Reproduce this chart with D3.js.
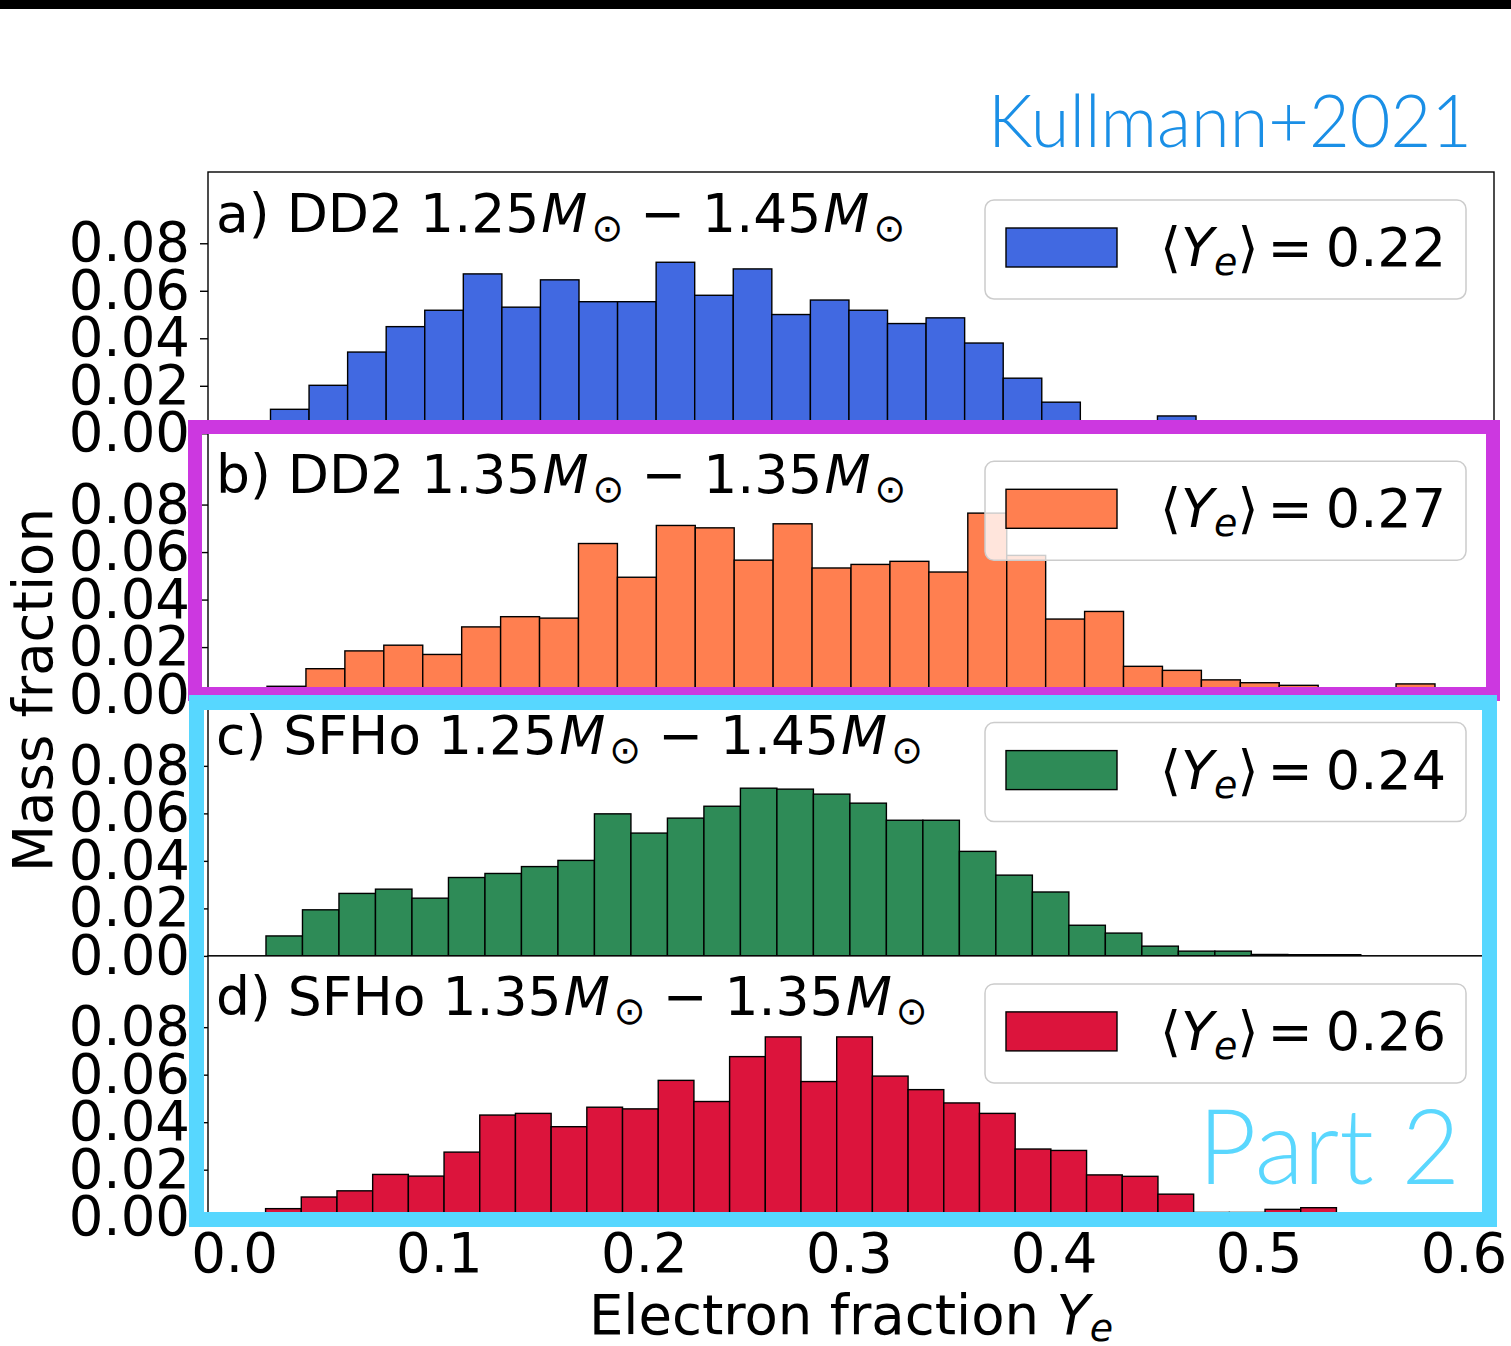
<!DOCTYPE html>
<html><head><meta charset="utf-8">
<script src="https://cdn.jsdelivr.net/npm/d3@7"></script>
<style>body{margin:0;background:#fff} svg text{font-family:"DejaVu Sans";white-space:pre}</style>
</head><body>
<svg id="chart" width="1511" height="1346"></svg>
<script>
// ---------- data ----------
const panelLetters = ["a", "b", "c", "d"];
const eosNames = ["DD2", "DD2", "SFHo", "SFHo"];
const mass1 = ["1.25", "1.35", "1.25", "1.35"];
const mass2 = ["1.45", "1.35", "1.45", "1.35"];
const meanYe = ["0.22", "0.27", "0.24", "0.26"];
const colors = ["#4169e1", "#ff7f50", "#2e8b57", "#dc143c"];
const binStarts = [0.0178, 0.0161, 0.0156, 0.0154];
const binWidths = [0.01882, 0.0190, 0.01781, 0.01742];
const dd2_125_145 = [0.0101, 0.0202, 0.0342, 0.0449, 0.0518, 0.0671, 0.0531, 0.0646, 0.0554, 0.0554,
  0.0720, 0.0581, 0.0692, 0.0500, 0.0561, 0.0518, 0.0462, 0.0486, 0.0380, 0.0232,
  0.0131, 0.0015, 0.0015, 0.0073, 0, 0, 0, 0, 0, 0.001];
const dd2_135_135 = [0.0035, 0.0109, 0.0184, 0.0208, 0.0169, 0.0285, 0.0328, 0.0322, 0.0636, 0.0494,
  0.0712, 0.0702, 0.0566, 0.0719, 0.0533, 0.0548, 0.0561, 0.0516, 0.0764, 0.0586,
  0.0318, 0.0350, 0.0119, 0.0102, 0.0062, 0.0050, 0.0039, 0.0025, 0.0020, 0.0045];
const sfho_125_145 = [0.0084, 0.0194, 0.0263, 0.0281, 0.0243, 0.0330, 0.0347, 0.0376, 0.0402, 0.0598,
  0.0517, 0.0580, 0.0630, 0.0706, 0.0702, 0.0681, 0.0643, 0.0571, 0.0571, 0.0440,
  0.0340, 0.0269, 0.0129, 0.0096, 0.0041, 0.0020, 0.0020, 0.0006, 0.0005, 0.0005];
const sfho_135_135 = [0.0036, 0.0085, 0.0111, 0.0180, 0.0173, 0.0274, 0.0430, 0.0437, 0.0381, 0.0463,
  0.0456, 0.0576, 0.0487, 0.0676, 0.0759, 0.0571, 0.0759, 0.0594, 0.0537, 0.0481,
  0.0437, 0.0287, 0.0281, 0.0178, 0.0172, 0.0097, 0.0020, 0.0020, 0.0033, 0.0040];
const series = [dd2_125_145, dd2_135_135, sfho_125_145, sfho_135_135];
const yTicks = [0, 0.02, 0.04, 0.06, 0.08];
const xTicks = [0, 0.1, 0.2, 0.3, 0.4, 0.5, 0.6];
const xLimits = [-0.0127, 0.6149];
const yMax = 0.11;

// ---------- layout ----------
const L = 208, R = 1494, T0 = 172, PH = 261.3;
const FS = 54.5, TFS = 53.5;
const svg = d3.select("#chart");
const x = d3.scaleLinear().domain(xLimits).range([L, R]);

series.forEach((vals, k) => {
  const top = T0 + k * PH, bottom = top + PH;
  const y = d3.scaleLinear().domain([0, yMax]).range([bottom, top]);
  const g = svg.append("g");
  g.append("rect").attr("x", L).attr("y", top).attr("width", R - L).attr("height", PH).attr("fill", "#fff");

  const bins = vals.map((v, i) => ({x0: binStarts[k] + i * binWidths[k], x1: binStarts[k] + (i + 1) * binWidths[k], v}))
    .filter(d => d.v > 0);
  g.selectAll("rect.bar").data(bins).join("rect").attr("class", "bar")
    .attr("x", d => x(d.x0)).attr("width", d => x(d.x1) - x(d.x0))
    .attr("y", d => y(d.v)).attr("height", d => y(0) - y(d.v))
    .attr("fill", colors[k]).attr("stroke", "#000").attr("stroke-width", 1.4);

  g.append("rect").attr("x", L).attr("y", top).attr("width", R - L).attr("height", PH)
    .attr("fill", "none").attr("stroke", "#000").attr("stroke-width", 1.4);

  const ya = g.append("g").attr("transform", `translate(${L},0)`)
    .call(d3.axisLeft(y).tickValues(yTicks).tickFormat(d3.format(".2f")).tickSize(8).tickPadding(10).tickSizeOuter(0));
  ya.select(".domain").remove();
  ya.selectAll("line").attr("stroke", "#000").attr("stroke-width", 1.4);
  ya.selectAll("text").attr("font-size", FS).attr("font-family", "DejaVu Sans").attr("fill", "#000");

  // title
  const t = g.append("text").attr("x", L + 8).attr("y", top + 59.5).attr("font-size", TFS).attr("fill", "#000");
  t.append("tspan").text(`${panelLetters[k]}) ${eosNames[k]} ${mass1[k]}`);
  t.append("tspan").attr("font-style", "italic").attr("dx", 2).text("M");
  t.append("tspan").attr("font-size", 38).attr("dy", 9).attr("dx", 4).text("\u2299");
  t.append("tspan").attr("dy", -9).attr("dx", 0).text(" \u2212 " + mass2[k]);
  t.append("tspan").attr("font-style", "italic").attr("dx", 2).text("M");
  t.append("tspan").attr("font-size", 38).attr("dy", 9).attr("dx", 4).text("\u2299");

  // legend
  const lw = 481, lh = 99;
  const lg = g.append("g").attr("transform", `translate(${R - 28 - lw},${top + 28})`);
  lg.append("rect").attr("width", lw).attr("height", lh).attr("rx", 9)
    .attr("fill", "#fff").attr("fill-opacity", 0.8).attr("stroke", "#cccccc").attr("stroke-width", 1.5);
  lg.append("rect").attr("x", 21).attr("y", 28).attr("width", 111).attr("height", 39)
    .attr("fill", colors[k]).attr("stroke", "#000").attr("stroke-width", 1.4);
  const lt = lg.append("text").attr("x", 175).attr("y", 66).attr("font-size", 54).attr("fill", "#000");
  lt.append("tspan").text("\u27e8");
  lt.append("tspan").attr("font-style", "italic").text("Y");
  lt.append("tspan").attr("font-style", "italic").attr("font-size", 38).attr("dy", 9).text("e");
  lt.append("tspan").attr("dy", -9).text("\u27e9");
  lt.append("tspan").attr("dx", 9).text("=");
  lt.append("tspan").attr("dx", 13).text(meanYe[k]);

  if (k === series.length - 1) {
    const xa = g.append("g").attr("transform", `translate(0,${bottom})`)
      .call(d3.axisBottom(x).tickValues(xTicks).tickFormat(d3.format(".1f")).tickSize(8).tickPadding(8).tickSizeOuter(0));
    xa.select(".domain").remove();
    xa.selectAll("line").attr("stroke", "#000").attr("stroke-width", 1.4);
    xa.selectAll("text").attr("font-size", FS).attr("font-family", "DejaVu Sans").attr("fill", "#000");
  }
});

// axis labels
svg.append("text").attr("transform", "translate(52,690) rotate(-90)").attr("text-anchor", "middle")
  .attr("font-size", FS).attr("fill", "#000").text("Mass fraction");
const xl = svg.append("text").attr("x", (L + R) / 2).attr("y", 1334).attr("text-anchor", "middle")
  .attr("font-size", FS).attr("fill", "#000");
xl.append("tspan").text("Electron fraction ");
xl.append("tspan").attr("font-style", "italic").text("Y");
xl.append("tspan").attr("font-style", "italic").attr("font-size", 38).attr("dy", 7).text("e");

// annotation overlays
svg.append("rect").attr("x", 195).attr("y", 427).attr("width", 1298).attr("height", 267)
  .attr("fill", "none").attr("stroke", "#cc38e0").attr("stroke-width", 14);
svg.append("rect").attr("x", 196.5).attr("y", 702.5).attr("width", 1293).attr("height", 517)
  .attr("fill", "none").attr("stroke", "#57d7ff").attr("stroke-width", 15);
svg.append("text").attr("x", 1198).attr("y", 1184).attr("font-size", 105)
  .style("font-family", "Lato, 'Open Sans', sans-serif").attr("font-weight", 300)
  .attr("fill", "#5ad7fe").attr("textLength", 262).attr("lengthAdjust", "spacingAndGlyphs").text("Part 2");
svg.append("text").attr("x", 988).attr("y", 147).attr("font-size", 72)
  .style("font-family", "Lato, 'Open Sans', sans-serif").attr("font-weight", 300)
  .attr("fill", "#1a8fe6").attr("textLength", 484).attr("lengthAdjust", "spacingAndGlyphs").text("Kullmann+2021");
svg.append("rect").attr("x", 0).attr("y", 0).attr("width", 1511).attr("height", 9).attr("fill", "#000");
</script>
</body></html>
